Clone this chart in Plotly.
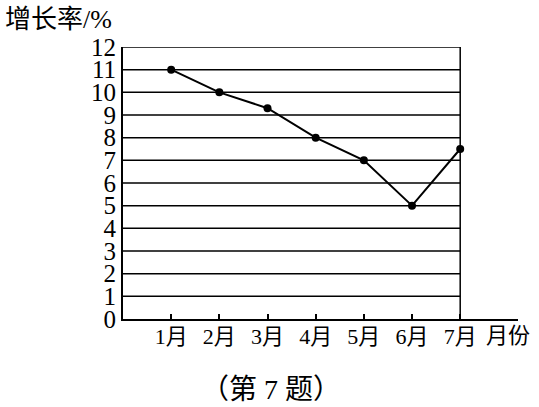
import plotly.graph_objects as go

months = ["1月", "2月", "3月", "4月", "5月", "6月", "7月"]
growth = [11, 10, 9.3, 8, 7, 5, 7.5]
y_ticks = list(range(0, 13))
x_unit_label = "月份"
y_title = "增长率/%"
caption = "（第 7 题）"

xs = list(range(1, len(months) + 1))
ymax = max(y_ticks)
nx = len(months)

serif = "'Times New Roman', 'Liberation Serif', 'Noto Sans CJK SC', serif"

fig = go.Figure()
fig.add_trace(go.Scatter(
    x=xs, y=growth, mode="lines+markers",
    line=dict(color="black", width=2),
    marker=dict(color="black", size=8),
    cliponaxis=False, showlegend=False, hoverinfo="skip",
))

shapes = []
for v in y_ticks[1:]:
    shapes.append(dict(type="line", xref="x", yref="y", x0=0, x1=nx, y0=v, y1=v,
                       line=dict(color="black", width=1.5), layer="below"))
shapes.append(dict(type="line", xref="x", yref="y", x0=nx, x1=nx, y0=0, y1=ymax,
                   line=dict(color="black", width=1.5), layer="below"))

fig.update_layout(
    width=539, height=407,
    margin=dict(l=123, r=21, t=47, b=88),
    paper_bgcolor="white", plot_bgcolor="white",
    shapes=shapes,
    xaxis=dict(range=[0, 8.2], tickvals=xs, ticktext=months,
               ticks="inside", ticklen=5, tickwidth=1.5, tickcolor="black",
               showline=True, linecolor="black", linewidth=2,
               showgrid=False, zeroline=False, ticklabelstandoff=-3,
               tickfont=dict(family=serif, size=22, color="black")),
    yaxis=dict(range=[0, ymax], tickvals=y_ticks, ticktext=[str(v) for v in y_ticks],
               ticks="", showline=True, linecolor="black", linewidth=2,
               showgrid=False, zeroline=False,
               tickfont=dict(family=serif, size=25, color="black")),
    annotations=[
        dict(text=y_title, xref="paper", yref="paper", x=-120/395, y=1 + 27/272,
             xanchor="left", yanchor="middle", showarrow=False,
             font=dict(family=serif, size=26, color="black")),
        dict(text=x_unit_label, xref="x", yref="paper", x=8, y=-16/272,
             xanchor="center", yanchor="middle", showarrow=False,
             font=dict(family=serif, size=22, color="black")),
        dict(text=caption, xref="paper", yref="paper", x=(271 - 123) / 395, y=-(389 - 319) / 272,
             xanchor="center", yanchor="middle", showarrow=False,
             font=dict(family=serif, size=28, color="black")),
    ],
)

fig.write_html("out.html")
